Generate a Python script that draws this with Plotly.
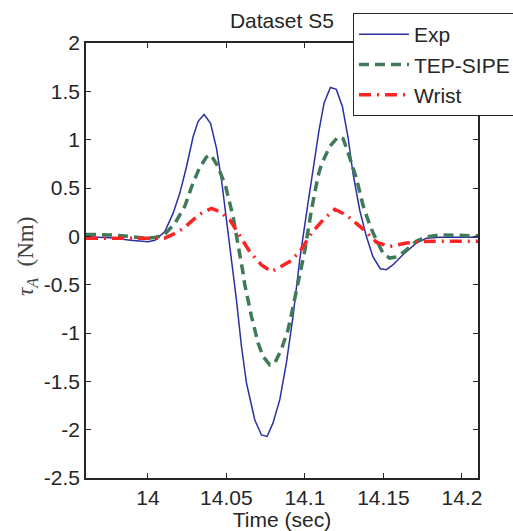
import plotly.graph_objects as go

# Measured torque traces around the movement (time in seconds, torque in Nm)
exp_t = [13.9606, 13.976, 13.989, 14.000, 14.0045, 14.0076, 14.0108, 14.0161, 14.0204,
         14.0246, 14.0288, 14.032, 14.0358, 14.0399, 14.0437, 14.0469, 14.0501, 14.0532,
         14.0564, 14.0596, 14.0628, 14.0681, 14.0723, 14.0759, 14.0797, 14.084, 14.0882,
         14.0924, 14.0967, 14.101, 14.1052, 14.109, 14.1122, 14.1162, 14.12, 14.1239,
         14.1274, 14.1306, 14.1349, 14.1391, 14.1433, 14.148, 14.1518, 14.156, 14.1624,
         14.1709, 14.1773, 14.1858, 14.2102]
exp_v = [-0.005, -0.015, -0.04, -0.055, -0.04, 0.0, 0.05, 0.24, 0.45,
         0.72, 1.03, 1.19, 1.26, 1.17, 0.91, 0.58, 0.17, -0.2,
         -0.66, -1.14, -1.52, -1.9, -2.055, -2.07, -1.93, -1.69, -1.31,
         -0.83, -0.24, 0.24, 0.72, 1.1, 1.38, 1.54, 1.52, 1.34,
         1.03, 0.65, 0.27, 0.0, -0.21, -0.335, -0.345, -0.296, -0.19,
         -0.07, -0.02, -0.01, -0.01]

tep_t = [13.9606, 13.9754, 13.9871, 13.9987, 14.0051, 14.0104, 14.0172, 14.0235, 14.0278,
         14.0326, 14.0373, 14.0401, 14.0447, 14.0496, 14.0543, 14.0574, 14.0606, 14.0617,
         14.066, 14.0702, 14.0734, 14.0776, 14.0808, 14.085, 14.0892, 14.0924, 14.0956,
         14.0999, 14.1041, 14.1083, 14.1104, 14.1158, 14.1211, 14.1243, 14.1274, 14.1328,
         14.137, 14.1412, 14.1444, 14.1497, 14.1539, 14.1592, 14.1646, 14.1709, 14.1773,
         14.1858, 14.1985, 14.2102]
tep_v = [0.02, 0.015, 0.0, -0.02, -0.01, 0.015, 0.135, 0.31, 0.51,
         0.70, 0.82, 0.845, 0.72, 0.51, 0.20, -0.07, -0.38, -0.5,
         -0.83, -1.105, -1.244, -1.33, -1.31, -1.17, -0.97, -0.73, -0.47,
         -0.15, 0.27, 0.62, 0.74, 0.93, 1.03, 1.01, 0.87, 0.6,
         0.32, 0.12, 0.0, -0.175, -0.225, -0.21, -0.14, -0.05, -0.005,
         0.015, 0.01, 0.005]

wrist_t = [13.9606, 13.9817, 13.9945, 14.0104, 14.0159, 14.0225, 14.0288, 14.0342, 14.0405,
           14.0458, 14.0522, 14.0564, 14.0649, 14.0723, 14.0787, 14.085, 14.0903, 14.0967,
           14.1041, 14.1115, 14.119, 14.1264, 14.1359, 14.1455, 14.1539, 14.1646, 14.173,
           14.1858, 14.2102]
wrist_v = [-0.02, -0.02, -0.02, -0.02, 0.02, 0.08, 0.17, 0.24, 0.29,
           0.255, 0.17, 0.066, -0.16, -0.295, -0.365, -0.31, -0.26, -0.16,
           0.03, 0.17, 0.28, 0.22, 0.09, -0.06, -0.106, -0.07, -0.055,
           -0.05, -0.05]

x_ticks = [14.0, 14.05, 14.1, 14.15, 14.2]
x_tick_text = ["14", "14.05", "14.1", "14.15", "14.2"]
y_ticks = [2, 1.5, 1, 0.5, 0, -0.5, -1, -1.5, -2, -2.5]
y_tick_text = ["2", "1.5", "1", "0.5", "0", "-0.5", "-1", "-1.5", "-2", "-2.5"]

ink = "#262626"
font = "Liberation Sans, Arial, sans-serif"

fig = go.Figure()
fig.add_trace(go.Scatter(x=exp_t, y=exp_v, mode="lines", name="Exp",
                         line=dict(color="#2b2fa3", width=1.5)))
fig.add_trace(go.Scatter(x=tep_t, y=tep_v, mode="lines", name="TEP-SIPE",
                         line=dict(color="#3f7a59", width=3.5, dash="10px,6px")))
fig.add_trace(go.Scatter(x=wrist_t, y=wrist_v, mode="lines", name="Wrist",
                         line=dict(color="#ff2424", width=3.5, dash="12px,6px,2px,6px")))

axis_common = dict(showgrid=False, zeroline=False, showline=True, linecolor=ink,
                   linewidth=1.5, mirror="ticks", ticks="inside", ticklen=5,
                   tickcolor=ink, tickfont=dict(family=font, size=21, color=ink))

fig.update_xaxes(range=[13.9606, 14.2102], tickvals=x_ticks, ticktext=x_tick_text,
                 title=dict(text="Time (sec)", font=dict(family=font, size=21, color=ink),
                            standoff=2),
                 **axis_common)
fig.update_yaxes(range=[-2.5, 2], tickvals=y_ticks, ticktext=y_tick_text,
                 **axis_common)

# y-axis label in a math-style serif face
fig.add_annotation(text="<i>τ<sub>A</sub></i>  (Nm)", xref="paper", yref="paper",
                   x=-0.1505, y=0.508, xanchor="center", yanchor="middle",
                   textangle=-90, showarrow=False,
                   font=dict(family="Liberation Serif, serif", size=23, color="#444444"))

fig.update_layout(
    width=513, height=531,
    margin=dict(l=86, r=35, t=43, b=53, autoexpand=False),
    paper_bgcolor="white", plot_bgcolor="white",
    title=dict(text="Dataset S5", x=0.5495, xanchor="center", y=0.962, yanchor="middle",
               font=dict(family=font, size=21, color=ink)),
    legend=dict(x=0.681, y=1.069, xanchor="left", yanchor="top",
                bgcolor="white", bordercolor=ink, borderwidth=1,
                font=dict(family=font, size=21, color=ink),
                itemwidth=50, tracegroupgap=0),
)

fig.write_html("out.html")
